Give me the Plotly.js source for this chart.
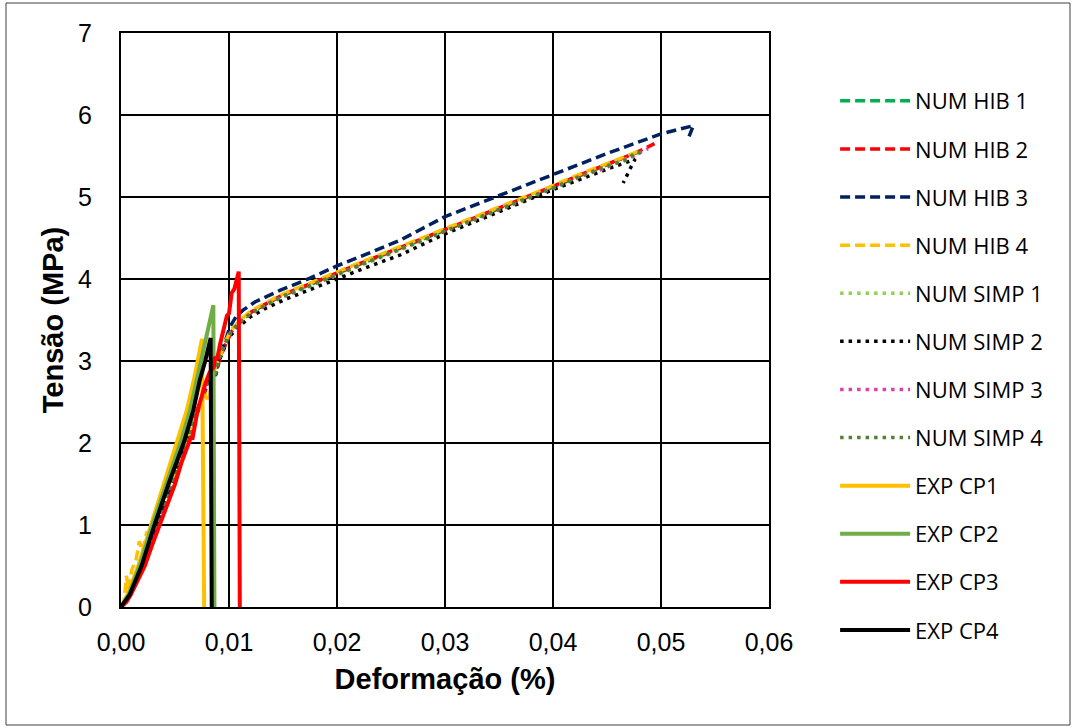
<!DOCTYPE html>
<html>
<head>
<meta charset="utf-8">
<script src="https://cdn.plot.ly/plotly-3.0.1.min.js"></script>
<style>
html,body{margin:0;padding:0;background:#fff;}
#chart{width:1076px;height:728px;}
</style>
</head>
<body>
<div id="chart"></div>
<script>
// ---- Series names ----
const seriesNames = ["NUM HIB 1","NUM HIB 2","NUM HIB 3","NUM HIB 4","NUM SIMP 1","NUM SIMP 2","NUM SIMP 3","NUM SIMP 4","EXP CP1","EXP CP2","EXP CP3","EXP CP4"];

// ---- Numerical (hybrid) ----
const numHib1X = [0,0.0010,0.0020,0.0033,0.0047,0.0060,0.0071,0.0079,0.0084,0.0087,0.0090,0.0096,0.0102,0.0110,0.0120,0.0135,0.0150,0.0175,0.0200,0.0225,0.0250,0.0275,0.0300,0.0325,0.0350,0.0375,0.0400,0.0425,0.0450,0.0475,0.0483];
const numHib1Y = [0,0.20,0.50,1.00,1.50,2.00,2.40,2.70,2.90,2.82,3.00,3.20,3.36,3.47,3.59,3.70,3.80,3.93,4.07,4.20,4.33,4.46,4.60,4.73,4.86,4.99,5.12,5.26,5.39,5.52,5.57];

const numHib2X = [0,0.0010,0.0021,0.0034,0.0048,0.0061,0.0072,0.0080,0.0085,0.0088,0.0091,0.0097,0.0103,0.0111,0.0121,0.0136,0.0150,0.0175,0.0200,0.0225,0.0250,0.0275,0.0300,0.0325,0.0350,0.0375,0.0400,0.0425,0.0450,0.0475,0.0494];
const numHib2Y = [0,0.20,0.50,1.00,1.50,2.00,2.40,2.70,2.90,2.83,3.01,3.21,3.37,3.48,3.60,3.71,3.81,3.94,4.08,4.21,4.34,4.47,4.61,4.74,4.87,5.00,5.13,5.27,5.40,5.53,5.65];

const numHib3X = [0,0.0010,0.0020,0.0033,0.0047,0.0060,0.0071,0.0079,0.0084,0.0087,0.0090,0.0096,0.0101,0.0107,0.0113,0.0124,0.0147,0.0175,0.0200,0.0225,0.0258,0.0300,0.0350,0.0400,0.0450,0.0500,0.0520,0.0530,0.0526];
const numHib3Y = [0,0.20,0.50,1.00,1.50,2.00,2.40,2.70,2.90,2.82,3.00,3.22,3.42,3.55,3.62,3.72,3.86,4.01,4.16,4.29,4.47,4.76,5.02,5.27,5.53,5.77,5.84,5.87,5.74];

const numHib4X = [0,0.0003,0.0005,0.0007,0.0010,0.0014,0.0017,0.0020,0.0024,0.0027,0.0030,0.0036,0.0047,0.0060,0.0071,0.0077,0.0081,0.0085,0.0088,0.0091,0.0096,0.0102,0.0110,0.0120,0.0135,0.0150,0.0175,0.0200,0.0225,0.0250,0.0275,0.0300,0.0325,0.0350,0.0375,0.0400,0.0425,0.0450,0.0482];
const numHib4Y = [0,0.08,0.38,0.22,0.45,0.58,0.80,0.68,0.92,0.85,1.10,1.25,1.55,2.00,2.38,2.62,2.50,2.80,2.95,3.02,3.22,3.38,3.49,3.61,3.72,3.82,3.95,4.09,4.22,4.35,4.48,4.62,4.75,4.88,5.01,5.14,5.28,5.41,5.57];

// ---- Numerical (simplified) ----
const numSimp1X = [0,0.0010,0.0020,0.0033,0.0047,0.0060,0.0071,0.0079,0.0084,0.0087,0.0090,0.0096,0.0102,0.0110,0.0120,0.0135,0.0150,0.0175,0.0200,0.0225,0.0250,0.0275,0.0300,0.0325,0.0350,0.0375,0.0400,0.0425,0.0450,0.0478];
const numSimp1Y = [0,0.20,0.50,1.00,1.50,2.00,2.40,2.70,2.89,2.81,2.99,3.19,3.35,3.46,3.57,3.68,3.78,3.91,4.05,4.18,4.31,4.44,4.58,4.71,4.84,4.97,5.10,5.24,5.37,5.52];

const numSimp2X = [0,0.0010,0.0020,0.0033,0.0047,0.0060,0.0071,0.0079,0.0084,0.0087,0.0090,0.0096,0.0102,0.0110,0.0120,0.0135,0.0150,0.0175,0.0200,0.0225,0.0258,0.0300,0.0350,0.0400,0.0450,0.0476,0.0472,0.0468,0.0465];
const numSimp2Y = [0,0.20,0.50,1.00,1.50,2.00,2.40,2.70,2.88,2.80,2.98,3.17,3.32,3.43,3.54,3.65,3.74,3.87,4.00,4.13,4.29,4.55,4.82,5.09,5.34,5.46,5.36,5.26,5.17];

const numSimp3X = [0,0.0010,0.0020,0.0033,0.0047,0.0060,0.0071,0.0079,0.0084,0.0087,0.0090,0.0096,0.0102,0.0110,0.0120,0.0135,0.0150,0.0175,0.0200,0.0225,0.0250,0.0275,0.0300,0.0325,0.0350,0.0375,0.0400,0.0424,0.0446,0.0460,0.0473,0.0488];
const numSimp3Y = [0,0.20,0.50,1.00,1.50,2.00,2.40,2.70,2.90,2.82,3.00,3.20,3.36,3.47,3.58,3.69,3.79,3.92,4.06,4.19,4.32,4.45,4.59,4.72,4.85,4.98,5.11,5.25,5.34,5.42,5.49,5.59];

const numSimp4X = [0,0.0010,0.0020,0.0033,0.0047,0.0060,0.0071,0.0079,0.0084,0.0087,0.0090,0.0096,0.0102,0.0110,0.0120,0.0135,0.0150,0.0175,0.0200,0.0225,0.0250,0.0275,0.0300,0.0325,0.0350,0.0375,0.0400,0.0425,0.0450,0.0468,0.0477,0.0482];
const numSimp4Y = [0,0.20,0.50,1.00,1.50,2.00,2.40,2.70,2.90,2.82,3.00,3.20,3.36,3.47,3.58,3.69,3.79,3.92,4.06,4.19,4.32,4.45,4.59,4.72,4.85,4.98,5.11,5.25,5.38,5.45,5.55,5.53];

// ---- Experimental ----
const expCp1X = [0,0.0006,0.0016,0.0028,0.0040,0.0052,0.0061,0.0068,0.0072,0.0075,0.0077];
const expCp1Y = [0,0.15,0.50,1.00,1.50,2.00,2.40,2.80,3.05,3.27,0];

const expCp2X = [0,0.0007,0.0017,0.0029,0.0042,0.0055,0.0064,0.0070,0.0078,0.00855,0.00865];
const expCp2Y = [0,0.15,0.50,1.00,1.50,2.00,2.40,2.75,3.20,3.68,0];

const expCp3X = [0,0.0005,0.0009,0.0015,0.0022,0.0029,0.0036,0.0043,0.0050,0.0056,0.0063,0.0065,0.0066,0.0069,0.0071,0.0075,0.0078,0.0082,0.0086,0.0087,0.0089,0.0092,0.0095,0.0098,0.0100,0.0101,0.01025,0.0105,0.0107,0.0109,0.0110];
const expCp3Y = [0,0.06,0.15,0.30,0.50,0.76,1.00,1.26,1.50,1.76,2.00,2.08,2.04,2.25,2.40,2.58,2.72,2.86,2.93,3.05,3.02,3.22,3.38,3.55,3.58,3.66,3.83,3.88,3.98,4.09,0];

const expCp4X = [0,0.0008,0.0019,0.0031,0.0044,0.0058,0.0067,0.0073,0.0078,0.0083,0.0084];
const expCp4Y = [0,0.15,0.50,1.00,1.50,2.00,2.40,2.77,3.00,3.28,0];

const seriesX = [numHib1X,numHib2X,numHib3X,numHib4X,numSimp1X,numSimp2X,numSimp3X,numSimp4X,expCp1X,expCp2X,expCp3X,expCp4X];
const seriesY = [numHib1Y,numHib2Y,numHib3Y,numHib4Y,numSimp1Y,numSimp2Y,numSimp3Y,numSimp4Y,expCp1Y,expCp2Y,expCp3Y,expCp4Y];
const seriesColors = ["#00B050","#FF0000","#002060","#FFC000","#92D050","#000000","#E23CAE","#548235","#FFC000","#70AD47","#FF0000","#000000"];
const seriesDash = ["10px,5px","10px,5px","10px,5px","10px,5px","3.5px,5px","3.5px,5px","3.5px,5px","3.5px,5px","solid","solid","solid","solid"];
const seriesWidth = [3.5,3.5,3.5,3.5,3.5,3.5,3.5,3.5,4,4,4,4];

const traces = seriesNames.map((n,i)=>({
  type:'scatter', mode:'lines', name:n, x:seriesX[i], y:seriesY[i],
  legendgroup:'g'+i,
  line:{color:seriesColors[i], width:seriesWidth[i], dash:seriesDash[i]},
  hoverinfo:'skip'
}));

const axisFont = {family:'"Liberation Sans", Arial, sans-serif', size:25, color:'#000'};
const titleFont = {family:'"Liberation Sans", Arial, sans-serif', size:29, color:'#000', weight:'bold'};

const layout = {
  width:1076, height:728,
  margin:{l:121, r:307, t:33, b:121},
  paper_bgcolor:'#fff', plot_bgcolor:'#fff',
  separators:',.',
  showlegend:true,
  legend:{
    x:1.102, xanchor:'left', y:0.918, yanchor:'top',
    font:{family:'"Open Sans", sans-serif', size:22, color:'#000'},
    itemwidth:70,
    tracegroupgap:16.5, bgcolor:'rgba(0,0,0,0)', itemclick:false
  },
  xaxis:{
    range:[0,0.06], dtick:0.01, tick0:0, tickformat:'.2f',
    showgrid:true, gridcolor:'#000', gridwidth:2,
    showline:true, linecolor:'#000', linewidth:2, mirror:true,
    zeroline:false, ticks:'', tickfont:axisFont, ticklabelstandoff:12,
    title:{text:'<b>Deformação (%)</b>', font:titleFont, standoff:14},
    automargin:false, fixedrange:true
  },
  yaxis:{
    range:[0,7], dtick:1, tick0:0, tickformat:'d',
    showgrid:true, gridcolor:'#000', gridwidth:2,
    showline:true, linecolor:'#000', linewidth:2, mirror:true,
    zeroline:false, ticks:'', tickfont:axisFont, ticklabelstandoff:22,
    title:{text:'<b>Tensão (MPa)</b>', font:titleFont, standoff:6},
    automargin:false, fixedrange:true
  },
  shapes:[{
    type:'rect', xref:'paper', yref:'paper',
    x0:(6-121)/648, x1:(1070-121)/648, y0:(607-725)/574, y1:(607-3)/574,
    line:{color:'#404040', width:1}, fillcolor:'rgba(0,0,0,0)', layer:'below'
  }]
};

Plotly.newPlot('chart', traces, layout, {staticPlot:true, displayModeBar:false});
</script>
</body>
</html>
